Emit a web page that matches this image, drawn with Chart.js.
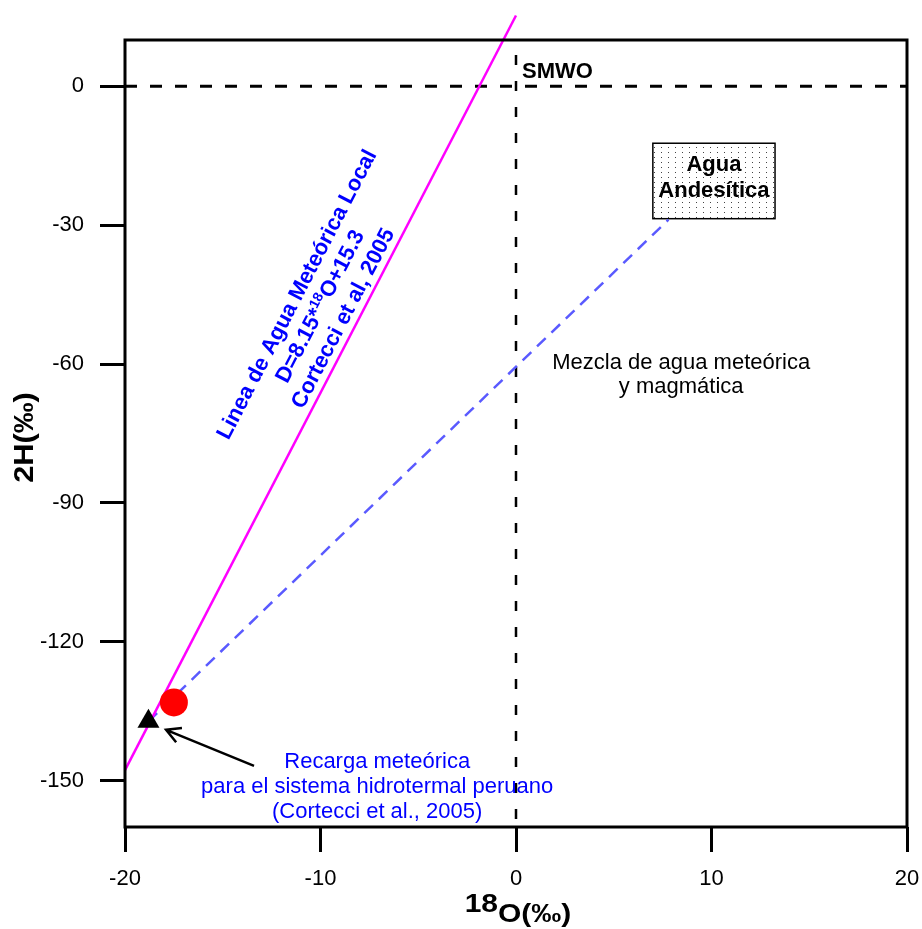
<!DOCTYPE html>
<html>
<head>
<meta charset="utf-8">
<script src="https://cdn.jsdelivr.net/npm/chart.js@4.4.0/dist/chart.umd.min.js"></script>
<style>
    body { margin: 0; background: #fff; }
    #wrap { width: 922px; height: 929px; position: relative; }
</style>
</head>
<body>
<div id="wrap"><canvas id="chart"></canvas></div>
<script>
'use strict';

// ejes
var xTicks = [-20, -10, 0, 10, 20];
var yTicks = [0, -30, -60, -90, -120, -150];
var xRange = [-20, 20];
var yRange = [-160, 10];

// linea de agua meteorica local D = 8.15*18O + 15.3 (extremos)
var lmwlO = [-20, 0];
var lmwlD = [-147.7, 15.3];

// linea de mezcla hacia agua andesitica
var mixO = [-18.8, 7.8];
var mixD = [-137.2, -28.8];

// SMWO
var smwoO = [0];
var smwoD = [0];

// muestras
var sampleO = [-17.5];
var sampleD = [-133.1];
var rechargeO = [-18.8];
var rechargeD = [-137.2];

// caja agua andesitica
var andesO = [7, 13.25];
var andesD = [-12.3, -28.6];

// flecha (cola, punta)
var arrowO = [-13.4, -17.9];
var arrowD = [-146.8, -139.0];

var FONT = '"Liberation Sans", Arial, sans-serif';

function pts(xs, ys) {
    var out = [];
    for (var i = 0; i < xs.length; i++) out.push({x: xs[i], y: ys[i]});
    return out;
}

function px(chart, o, d) {
    return {x: chart.scales.x.getPixelForValue(o), y: chart.scales.y.getPixelForValue(d)};
}

function dotPattern(ctx) {
    var c = document.createElement('canvas');
    c.width = 7; c.height = 5;
    var g = c.getContext('2d');
    g.fillStyle = '#fff';
    g.fillRect(0, 0, 7, 5);
    g.fillStyle = '#444';
    g.fillRect(3, 2, 1, 1);
    return ctx.createPattern(c, 'repeat');
}

var extras = {
    id: 'extras',
    beforeDatasetsDraw: function (chart) {
        var ctx = chart.ctx;
        var a = px(chart, andesO[0], andesD[0]);
        var b = px(chart, andesO[1], andesD[1]);
        ctx.save();
        ctx.fillStyle = dotPattern(ctx);
        ctx.fillRect(a.x, a.y, b.x - a.x, b.y - a.y);
        ctx.strokeStyle = '#000';
        ctx.lineWidth = 1.5;
        ctx.strokeRect(a.x, a.y, b.x - a.x, b.y - a.y);
        ctx.restore();
    },
    afterDraw: function (chart) {
        var ctx = chart.ctx;
        var area = chart.chartArea;
        ctx.save();

        // marco
        ctx.strokeStyle = '#000';
        ctx.lineWidth = 3;
        ctx.strokeRect(area.left, area.top, area.right - area.left, area.bottom - area.top);

        // caja texto
        var a = px(chart, andesO[0], andesD[0]);
        var b = px(chart, andesO[1], andesD[1]);
        var cx = (a.x + b.x) / 2;
        ctx.fillStyle = '#000';
        ctx.font = 'bold 22px ' + FONT;
        ctx.textAlign = 'center';
        ctx.textBaseline = 'alphabetic';
        ctx.fillText('Agua', cx, a.y + 28);
        ctx.fillText('Andesítica', cx, a.y + 54);

        // SMWO
        var s = px(chart, smwoO[0], smwoD[0]);
        ctx.textAlign = 'left';
        ctx.fillText('SMWO', s.x + 6, s.y - 8);

        // mezcla
        ctx.font = '22px ' + FONT;
        ctx.textAlign = 'center';
        var m = px(chart, 8.45, -61);
        ctx.fillText('Mezcla de agua meteórica', m.x, m.y);
        ctx.fillText('y magmática', m.x, m.y + 24);

        // recarga
        ctx.fillStyle = '#0000ff';
        var r = px(chart, -7.1, -147.2);
        ctx.fillText('Recarga meteórica', r.x, r.y);
        ctx.fillText('para el sistema hidrotermal peruano', r.x, r.y + 25);
        ctx.fillText('(Cortecci et al., 2005)', r.x, r.y + 50);

        // flecha
        var t = px(chart, arrowO[0], arrowD[0]);
        var h = px(chart, arrowO[1], arrowD[1]);
        var ang = Math.atan2(h.y - t.y, h.x - t.x);
        ctx.strokeStyle = '#000';
        ctx.lineWidth = 2.5;
        ctx.beginPath();
        ctx.moveTo(t.x, t.y);
        ctx.lineTo(h.x, h.y);
        ctx.moveTo(h.x - 16 * Math.cos(ang - 0.5), h.y - 16 * Math.sin(ang - 0.5));
        ctx.lineTo(h.x, h.y);
        ctx.lineTo(h.x - 16 * Math.cos(ang + 0.5), h.y - 16 * Math.sin(ang + 0.5));
        ctx.stroke();

        // texto rotado de la linea meteorica
        var p1 = px(chart, lmwlO[0], lmwlD[0]);
        var p2 = px(chart, lmwlO[1], lmwlD[1]);
        var rot = Math.atan2(p2.y - p1.y, p2.x - p1.x);
        var c = px(chart, -10.0, -47.6);
        ctx.translate(c.x, c.y);
        ctx.rotate(rot);
        ctx.fillStyle = '#0000ff';
        ctx.textBaseline = 'middle';
        ctx.textAlign = 'center';
        ctx.font = 'bold 22px ' + FONT;
        ctx.fillText('Linea de Agua Meteórica Local', 0, -26);
        ctx.fillText('Cortecci et al, 2005', 0, 26);
        var w1 = ctx.measureText('D=8.15*').width;
        var w3 = ctx.measureText('O+15.3').width;
        ctx.font = 'bold 14px ' + FONT;
        var w2 = ctx.measureText('18').width;
        var x0 = -(w1 + w2 + w3) / 2;
        ctx.textAlign = 'left';
        ctx.font = 'bold 22px ' + FONT;
        ctx.fillText('D=8.15*', x0, 0);
        ctx.fillText('O+15.3', x0 + w1 + w2, 0);
        ctx.font = 'bold 14px ' + FONT;
        ctx.fillText('18', x0 + w1, -6);
        ctx.setTransform(1, 0, 0, 1, 0, 0);

        // titulos de ejes
        ctx.fillStyle = '#000';
        ctx.textBaseline = 'alphabetic';
        ctx.font = 'bold 25px ' + FONT;
        var mid = (area.left + area.right) / 2;
        var wa = ctx.measureText('18').width * 1.2;
        var wb = ctx.measureText('O(‰)').width * 1.2;
        ctx.save();
        ctx.translate(mid - (wa + wb) / 2 + 2, area.bottom + 85);
        ctx.scale(1.2, 1);
        ctx.textAlign = 'left';
        ctx.fillText('18', 0, 0);
        ctx.fillText('O(‰)', wa / 1.2, 10);
        ctx.restore();

        ctx.save();
        ctx.translate(33, (area.top + area.bottom) / 2 + 4);
        ctx.rotate(-Math.PI / 2);
        ctx.scale(1.1, 1);
        ctx.font = 'bold 28px ' + FONT;
        ctx.textAlign = 'center';
        ctx.fillText('2H(‰)', 0, 0);
        ctx.restore();

        ctx.restore();
    }
};

var ctx = document.getElementById('chart');
var chart = new Chart(ctx, {
    type: 'scatter',
    data: {
        datasets: [{
            data: pts(rechargeO, rechargeD),
            pointStyle: 'triangle',
            pointRadius: 12.7,
            backgroundColor: '#000',
            borderColor: '#000',
            borderWidth: 0
        }, {
            data: pts(sampleO, sampleD),
            pointStyle: 'circle',
            pointRadius: 14,
            backgroundColor: '#ff0000',
            borderColor: '#ff0000',
            borderWidth: 0
        }, {
            data: pts(lmwlO, lmwlD),
            showLine: true,
            pointRadius: 0,
            borderColor: '#ff00ff',
            borderWidth: 2.5,
            clip: false
        }, {
            data: pts(mixO, mixD),
            showLine: true,
            pointRadius: 0,
            borderColor: '#5a5aff',
            borderWidth: 2.5,
            borderDash: [12, 8]
        }, {
            data: pts(xRange, [smwoD[0], smwoD[0]]),
            showLine: true,
            pointRadius: 0,
            borderColor: '#000',
            borderWidth: 3,
            borderDash: [12, 13]
        }, {
            data: pts([smwoO[0], smwoO[0]], [yRange[1], yRange[0]]),
            showLine: true,
            pointRadius: 0,
            borderColor: '#000',
            borderWidth: 2.5,
            borderDash: [10, 16],
            borderDashOffset: 11
        }]
    },
    options: {
        responsive: true,
        maintainAspectRatio: false,
        animation: false,
        layout: {padding: {top: 40, right: 15, left: 0, bottom: 0}},
        plugins: {legend: {display: false}, tooltip: {enabled: false}},
        scales: {
            x: {
                type: 'linear',
                min: xRange[0],
                max: xRange[1],
                afterBuildTicks: function (scale) {
                    scale.ticks = xTicks.map(function (v) { return {value: v}; });
                },
                afterFit: function (scale) {
                    scale.height = 102;
                    scale.paddingLeft = 0;
                    scale.paddingRight = 0;
                },
                border: {display: false},
                grid: {drawOnChartArea: false, drawTicks: true, tickLength: 25, tickWidth: 3, tickColor: '#000'},
                ticks: {color: '#000', padding: 14, maxRotation: 0, font: {family: FONT, size: 22}}
            },
            y: {
                type: 'linear',
                min: yRange[0],
                max: yRange[1],
                afterBuildTicks: function (scale) {
                    scale.ticks = yTicks.map(function (v) { return {value: v}; });
                },
                afterFit: function (scale) {
                    scale.width = 125;
                    scale.paddingTop = 0;
                    scale.paddingBottom = 0;
                },
                border: {display: false},
                grid: {drawOnChartArea: false, drawTicks: true, tickLength: 25, tickWidth: 3, tickColor: '#000'},
                ticks: {color: '#000', padding: 16, font: {family: FONT, size: 22}}
            }
        }
    },
    plugins: [extras]
});
</script>
</body>
</html>
